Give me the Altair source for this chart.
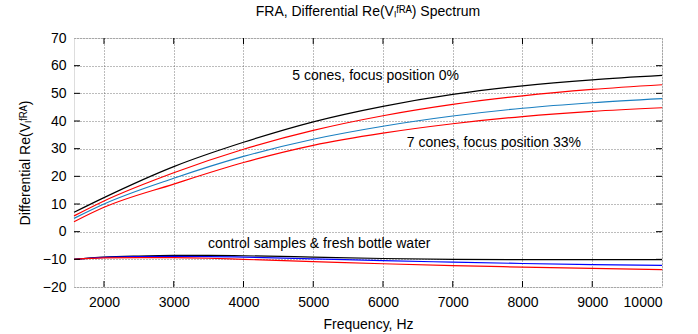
import altair as alt
import pandas as pd

# ---- data ----
freq_main = [1570, 2000, 3000, 4000, 5000, 6000, 7000, 8000, 9000, 10000]
black_5c = [7.0, 12.3, 23.5, 32.3, 39.7, 45.3, 49.6, 52.7, 54.9, 56.5]
red_5c = [5.7, 11.1, 21.3, 29.8, 36.6, 41.9, 46.0, 49.1, 51.4, 53.1]
blue_7c = [4.8, 10.0, 19.3, 27.2, 33.4, 38.1, 41.8, 44.6, 46.6, 48.1]
red_7c = [3.6, 8.8, 17.2, 25.0, 31.2, 35.6, 39.0, 41.6, 43.5, 44.8]

freq_ctrl = [1570, 2000, 2500, 3000, 3500, 4000, 5000, 6000, 7000, 8000, 9000, 10000]
ctrl_black = [-10.0, -9.2, -8.8, -8.6, -8.6, -8.7, -9.2, -9.7, -10.0, -10.1, -10.1, -10.1]
ctrl_blue = [-10.0, -9.3, -9.0, -8.9, -9.0, -9.2, -9.8, -10.5, -11.0, -11.5, -11.9, -12.2]
ctrl_red = [-10.0, -9.5, -9.4, -9.4, -9.6, -10.0, -10.8, -11.6, -12.3, -12.8, -13.3, -13.7]

x_ticks = [2000, 3000, 4000, 5000, 6000, 7000, 8000, 9000, 10000]
y_ticks = [-20, -10, 0, 10, 20, 30, 40, 50, 60, 70]

labels = ["5 cones, focus position 0%", "7 cones, focus position 33%",
          "control samples & fresh bottle water"]
label_x = [4700, 6340, 3490]
label_y = [56.3, 32.1, -4.3]

series_names = ["s1", "s2", "s3", "s4", "c1", "c2", "c3"]
series_colors = ["#000000", "#ff0000", "#1a7fc1", "#ff0000", "#000000", "#0000ff", "#ff0000"]

rows = []
for name, vals in zip(["s1", "s2", "s3", "s4"], [black_5c, red_5c, blue_7c, red_7c]):
    for f, v in zip(freq_main, vals):
        rows.append({"f": f, "v": v, "s": name})
for name, vals in zip(["c1", "c2", "c3"], [ctrl_black, ctrl_blue, ctrl_red]):
    for f, v in zip(freq_ctrl, vals):
        rows.append({"f": f, "v": v, "s": name})
df = pd.DataFrame(rows)

W, H = 588, 249
FONT = "Liberation Sans"
FS = 14

xscale = alt.Scale(domain=[1570, 10000], nice=False, zero=False)
yscale = alt.Scale(domain=[-20, 70], nice=False, zero=False)

ax_x = alt.Axis(values=x_ticks, format="d", grid=True, gridDash=[1, 2], gridColor="#555",
                gridWidth=0.8, ticks=False, domain=False, labelPadding=8,
                labelFontSize=FS, labelFont=FONT, labelColor="#000", labelOverlap=False,
                title="Frequency, Hz", titleFont=FONT, titleFontSize=FS,
                titleFontWeight="normal", titleColor="#000", titlePadding=8)
ax_y = alt.Axis(values=y_ticks, tickCount=10, grid=True, gridDash=[1, 2], gridColor="#555",
                gridWidth=0.8, ticks=False, domain=False, labelPadding=8,
                labelFontSize=FS, labelFont=FONT, labelColor="#000", labelOverlap=False,
                title="Differential Re(V\u2097\u1da0\u1d3f\u1d2c)", titleFont=FONT,
                titleFontSize=FS, titleFontWeight="normal", titleColor="#000",
                titlePadding=10)

lines = alt.Chart(df).mark_line(strokeWidth=1.2, interpolate="monotone").encode(
    x=alt.X("f:Q", scale=xscale, axis=ax_x),
    y=alt.Y("v:Q", scale=yscale, axis=ax_y),
    color=alt.Color("s:N", scale=alt.Scale(domain=series_names, range=series_colors), legend=None),
    detail="s:N",
)

ann = alt.Chart(pd.DataFrame({"t": labels, "x": label_x, "y": label_y})).mark_text(
    align="left", baseline="middle", fontSize=FS, font=FONT, color="#000"
).encode(x=alt.X("x:Q", scale=xscale, axis=ax_x), y=alt.Y("y:Q", scale=yscale, axis=ax_y),
         text="t:N")

xt = pd.DataFrame({"x": x_ticks[:-1]})
yt = pd.DataFrame({"y": y_ticks[1:-1]})
tick_bottom = alt.Chart(xt).mark_rule(color="#000", strokeWidth=1).encode(
    x=alt.X("x:Q", scale=xscale, axis=ax_x), y=alt.value(H - 6), y2=alt.value(H))
tick_top = alt.Chart(xt).mark_rule(color="#000", strokeWidth=1).encode(
    x=alt.X("x:Q", scale=xscale, axis=ax_x), y=alt.value(0), y2=alt.value(6))
tick_left = alt.Chart(yt).mark_rule(color="#000", strokeWidth=1).encode(
    y=alt.Y("y:Q", scale=yscale, axis=ax_y), x=alt.value(0), x2=alt.value(6))
tick_right = alt.Chart(yt).mark_rule(color="#000", strokeWidth=1).encode(
    y=alt.Y("y:Q", scale=yscale, axis=ax_y), x=alt.value(W - 6), x2=alt.value(W))

chart = alt.layer(lines, tick_bottom, tick_top, tick_left, tick_right, ann).properties(
    width=W, height=H,
    title=alt.TitleParams("FRA, Differential Re(V\u2097\u1da0\u1d3f\u1d2c) Spectrum",
                          font=FONT, fontSize=FS, fontWeight="normal", color="#000",
                          anchor="middle", offset=12),
    autosize=alt.AutoSizeParams(type="none"),
    padding={"left": 74, "top": 38, "right": 36, "bottom": 47},
).configure_view(stroke="#000", strokeWidth=1).configure(background="white")

chart.save("out.html", embed_options={"renderer": "svg", "actions": False})
